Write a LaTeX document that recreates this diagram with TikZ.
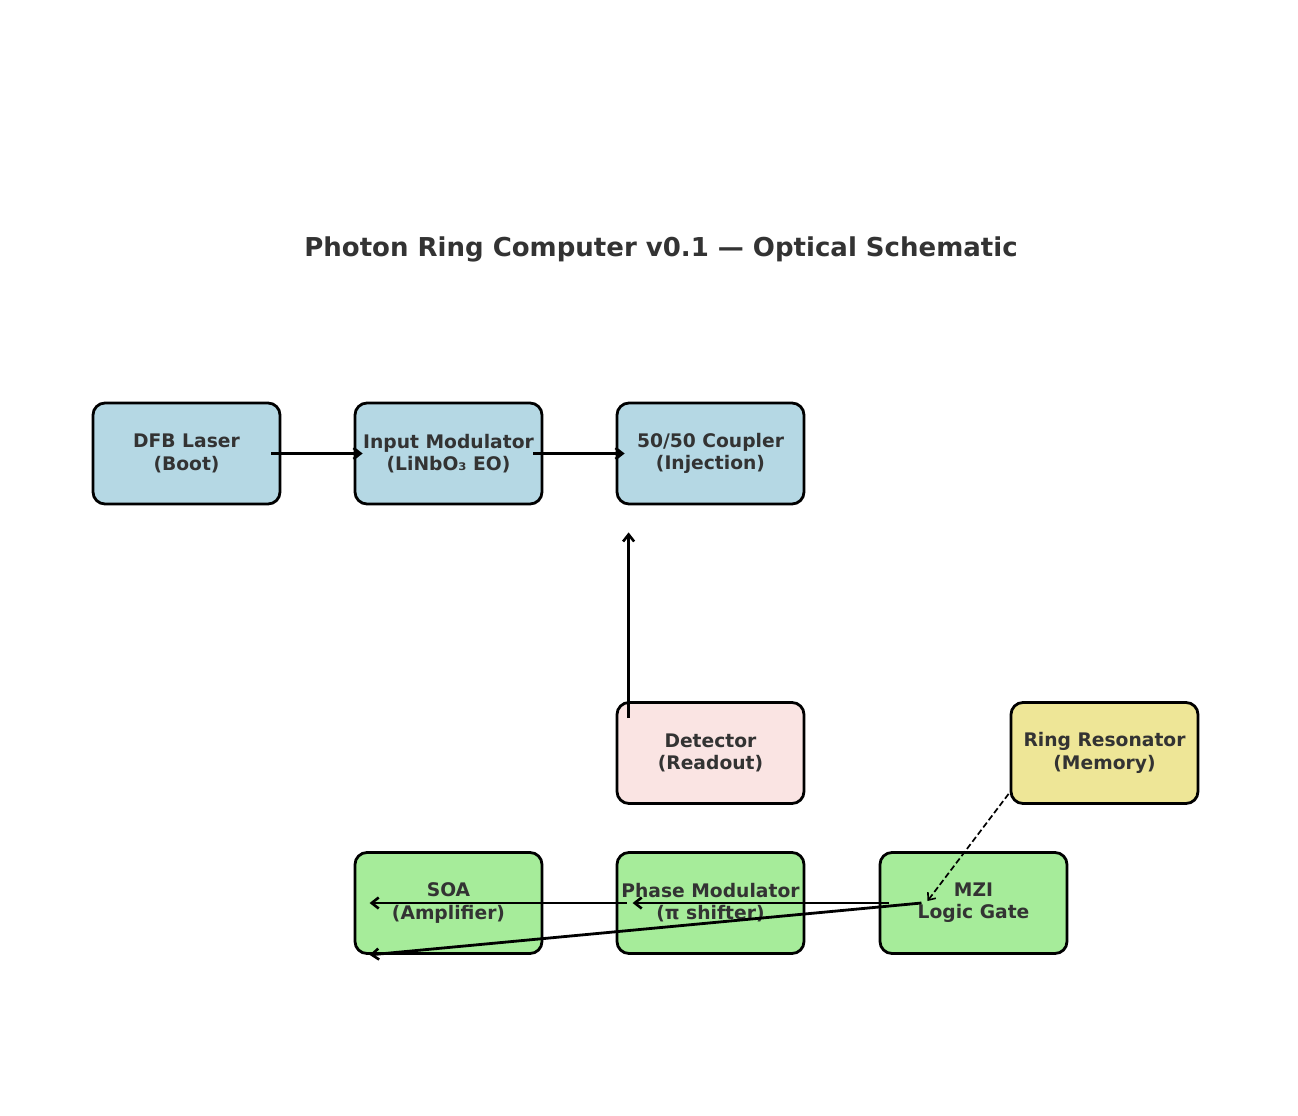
\documentclass[tikz,border=0pt]{standalone}
\usepackage{fontspec}
\setmainfont{DejaVu Sans}
\usetikzlibrary{arrows.meta}
\definecolor{txt}{HTML}{333333}
\definecolor{cblue}{HTML}{B5D8E4}
\definecolor{cgreen}{HTML}{A6EC9A}
\definecolor{cpink}{HTML}{FAE4E3}
\definecolor{cyellow}{HTML}{EEE697}
\tikzset{
  box/.style={draw=black, line width=2.8pt, rounded corners=12pt,
    minimum width=187pt, minimum height=101pt, align=center,
    text=txt, font=\bfseries\fontsize{18.7}{22.2}\selectfont, inner sep=0pt},
  flow/.style={line width=2.8pt, -{Straight Barb[length=7pt,width=11pt,line width=2.6pt]}},
  dflow/.style={line width=1.7pt, dash pattern=on 6pt off 3pt, -{Straight Barb[length=6pt,width=10pt,line width=1.6pt]}}
}
\begin{document}
\begin{tikzpicture}[x=1pt,y=-1pt]
\useasboundingbox (0,0) rectangle (1298,1116);
\node[text=txt, font=\bfseries\fontsize{26}{31}\selectfont] (title) at (661,249) {Photon Ring Computer v0.1 — Optical Schematic};
\node[box, fill=cblue] (dfb) at (186.5,453.5) {DFB Laser\\(Boot)};
\node[box, fill=cblue] (inmod) at (448.5,453.5) {Input Modulator\\(LiNbO₃ EO)};
\node[box, fill=cblue] (coup) at (710.5,453.5) {50/50 Coupler\\(Injection)};
\node[box, fill=cpink] (det) at (710.5,753) {Detector\\(Readout)};
\node[box, fill=cyellow] (ring) at (1104.5,753) {Ring Resonator\\(Memory)};
\node[box, fill=cgreen] (soa) at (448.5,903) {SOA\\(Amplifier)};
\node[box, fill=cgreen] (phase) at (710.5,903) {Phase Modulator\\(π shifter)};
\node[box, fill=cgreen] (mzi) at (973.5,903) {MZI\\Logic Gate};
\draw[flow] ([xshift=-10pt]dfb.east) -- ([xshift=9pt]inmod.west);
\draw[flow] ([xshift=-10pt]inmod.east) -- ([xshift=9pt]coup.west);
\draw[flow] ([xshift=13pt,yshift=-17pt]det.north west) -- ([xshift=13pt,yshift=-27pt]coup.south west);
\draw[flow] ([xshift=10pt]mzi.west) -- ([xshift=17pt]phase.west);
\draw[flow] ([xshift=11pt]phase.west) -- ([xshift=16pt]soa.west);
\draw[flow] ([xshift=-52pt]mzi.center) -- ([xshift=16pt]soa.south west);
\draw[dflow] ([xshift=-1pt,yshift=11pt]ring.south west) -- ([xshift=-46pt,yshift=2pt]mzi.center);
\end{tikzpicture}
\end{document}
